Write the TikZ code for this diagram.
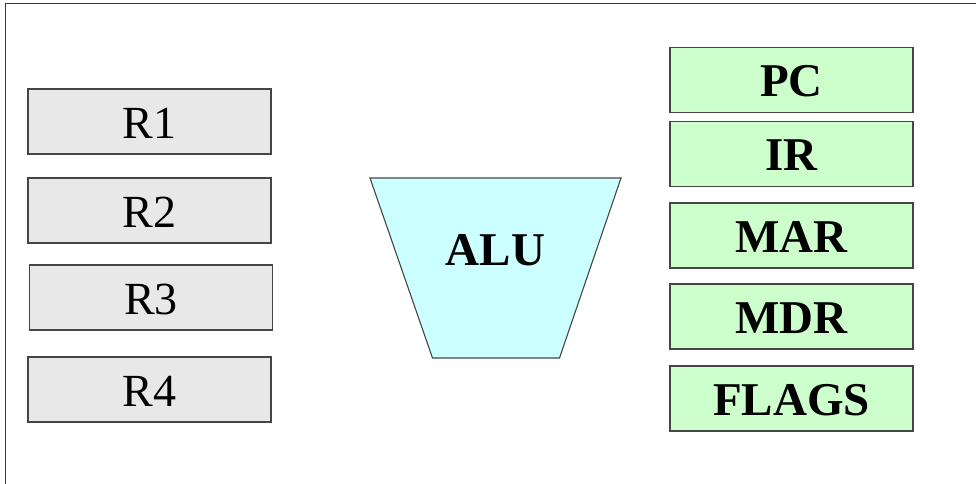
\documentclass[tikz,border=0pt]{standalone}
\usepackage{fontspec}
\setmainfont{Liberation Serif}
\definecolor{regfill}{HTML}{E8E8E8}
\definecolor{ctlfill}{HTML}{CCFFCC}
\definecolor{alufill}{HTML}{CCFFFF}
\definecolor{edge}{HTML}{454545}
\definecolor{framec}{HTML}{3A3A3A}
\tikzset{
  regbox/.style={draw=edge, line width=1.1pt, fill=regfill, inner sep=0pt,
    minimum width=243pt, minimum height=65pt, text height=34pt, text depth=0pt,
    font=\fontsize{46}{46}\selectfont},
  ctlbox/.style={regbox, fill=ctlfill, font=\fontsize{47}{47}\selectfont\bfseries},
}
\begin{document}
\begin{tikzpicture}[x=1pt,y=-1pt]
\useasboundingbox (0,0) rectangle (977,484);
% outer frame (top and left edges)
\draw[framec, line width=1.1pt] (5.5,484) -- (5.5,3.5) -- (976,3.5);

% general-purpose registers
\node[regbox] (r1) at (149.5,121.5) {R1};
\node[regbox] (r2) at (149.5,210.5) {R2};
\node[regbox] (r3) at (151,297.5) {R3};
\node[regbox] (r4) at (149.5,389.5) {R4};

% arithmetic logic unit
\coordinate (atl) at (370,178);
\coordinate (atr) at (621,178);
\coordinate (abr) at (559.5,358);
\coordinate (abl) at (432.5,358);
\draw[edge, line width=1.1pt, fill=alufill] (atl) -- (atr) -- (abr) -- (abl) -- cycle;
\node[anchor=base, inner sep=0pt, font=\fontsize{47}{47}\selectfont\bfseries] (alu) at (495.5,265) {ALU};

% control and status registers
\node[ctlbox] (pc) at (791.5,80) {PC};
\node[ctlbox] (ir) at (791.5,154) {IR};
\node[ctlbox] (mar) at (791.5,235.5) {MAR};
\node[ctlbox] (mdr) at (791.5,316.5) {MDR};
\node[ctlbox] (flags) at (791.5,398.5) {FLAGS};
\end{tikzpicture}
\end{document}
